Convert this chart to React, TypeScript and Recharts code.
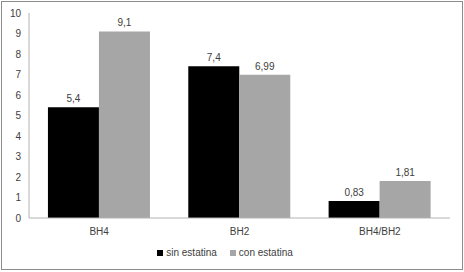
import { Bar, BarChart, LabelList, Legend, XAxis, YAxis } from 'recharts'

const categories = ['BH4', 'BH2', 'BH4/BH2']
const sinEstatina = [5.4, 7.4, 0.83]
const conEstatina = [9.1, 6.99, 1.81]
const yTicks = [0, 1, 2, 3, 4, 5, 6, 7, 8, 9, 10]

const seriesNames = ['sin estatina', 'con estatina']
const seriesColors = ['#000000', '#a6a6a6']

const data = categories.map((name, i) => ({
  name,
  sin: sinEstatina[i],
  con: conEstatina[i],
}))

const font = '"Liberation Sans", Arial, sans-serif'
const textColor = '#404040'
const axisColor = '#b3b3b3'

const fmt = (v: unknown) => String(v).replace('.', ',')

function LegendRow() {
  return (
    <div
      style={{
        display: 'flex',
        justifyContent: 'center',
        gap: 13,
        paddingTop: 7,
        fontFamily: font,
        fontSize: 10,
        color: textColor,
        lineHeight: '12px',
      }}
    >
      {seriesNames.map((n, i) => (
        <div key={n} style={{ display: 'flex', alignItems: 'center' }}>
          <span
            style={{
              display: 'inline-block',
              width: 6,
              height: 6,
              background: seriesColors[i],
              marginRight: 3,
            }}
          />
          {n}
        </div>
      ))}
    </div>
  )
}

export default function App() {
  return (
    <div style={{ position: 'absolute', left: 0, top: 0, width: 464, height: 272, background: '#fff' }}>
      <div
        style={{
          position: 'absolute',
          left: 1,
          top: 1,
          width: 460,
          height: 267,
          border: '1px solid #8c8c8c',
          pointerEvents: 'none',
        }}
      />
      <BarChart
        width={464}
        height={272}
        data={data}
        margin={{ top: 13, right: 14, bottom: 0, left: 0 }}
        barCategoryGap="13.5%"
        barGap={0}
      >
        <YAxis
          width={29}
          domain={[0, 10]}
          ticks={yTicks}
          interval={0}
          tickLine={false}
          axisLine={{ stroke: axisColor }}
          tick={{ fill: textColor, fontSize: 10, fontFamily: font }}
        />
        <XAxis
          dataKey="name"
          height={22}
          tickLine={false}
          tickMargin={4}
          axisLine={{ stroke: axisColor }}
          tick={{ fill: textColor, fontSize: 10, fontFamily: font }}
        />
        <Legend
          verticalAlign="bottom"
          content={<LegendRow />}
          wrapperStyle={{ height: 32 }}
        />
        <Bar dataKey="sin" name={seriesNames[0]} fill={seriesColors[0]} isAnimationActive={false}>
          <LabelList
            dataKey="sin"
            position="top"
            formatter={fmt}
            style={{ fill: textColor, fontSize: 10, fontFamily: font }}
          />
        </Bar>
        <Bar dataKey="con" name={seriesNames[1]} fill={seriesColors[1]} isAnimationActive={false}>
          <LabelList
            dataKey="con"
            position="top"
            formatter={fmt}
            style={{ fill: textColor, fontSize: 10, fontFamily: font }}
          />
        </Bar>
      </BarChart>
    </div>
  )
}
